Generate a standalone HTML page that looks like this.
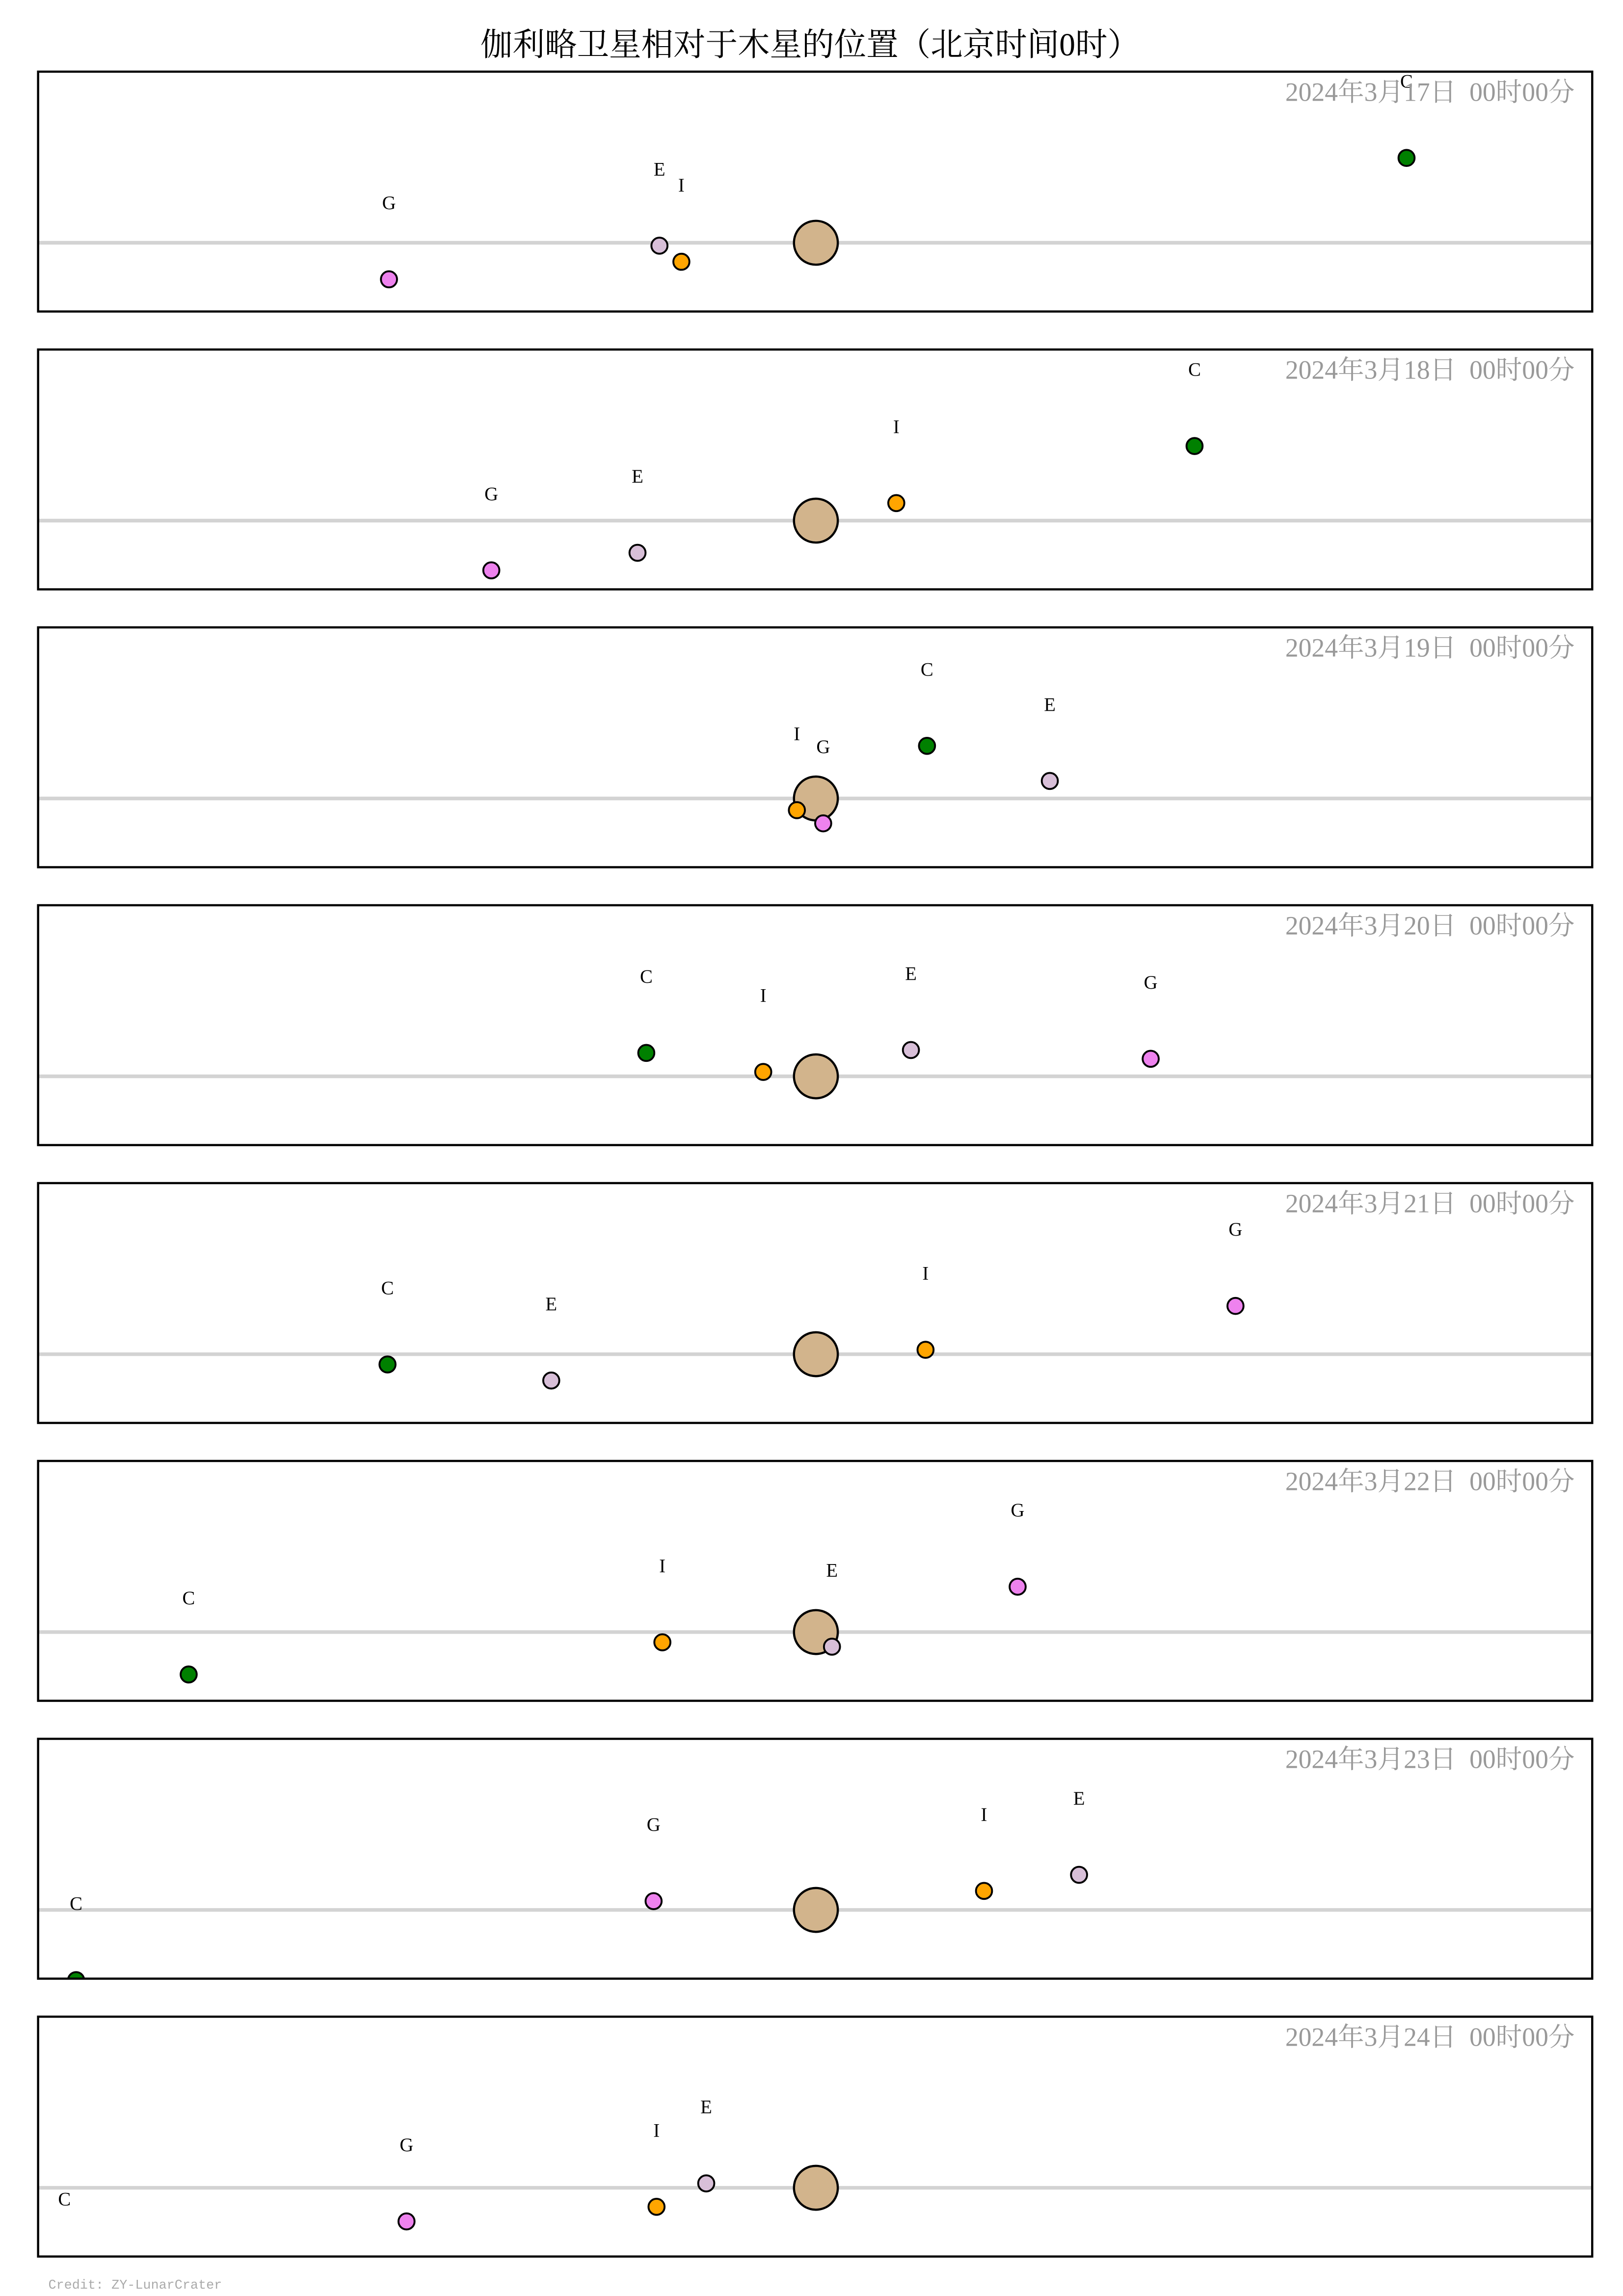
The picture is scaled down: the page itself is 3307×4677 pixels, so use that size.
<!DOCTYPE html>
<html><head><meta charset="utf-8"><style>html,body{margin:0;padding:0;background:#fff}svg{display:block}</style></head>
<body>
<svg id="chart" xmlns="http://www.w3.org/2000/svg" width="3307" height="4677" viewBox="0 0 1110 1570">
<rect width="1110" height="1570" fill="#fff"/>
<text x="554" y="38" text-anchor="middle" font-family="'Liberation Serif','Noto Serif CJK SC',serif" font-size="22">伽利略卫星相对于木星的位置（北京时间0时）</text>
<text x="33" y="1565" font-family="'Liberation Mono',monospace" font-size="9" fill="#aaa">Credit: ZY-LunarCrater</text>
<g id="panels"></g>
</svg>
<script>
const dates = ["2024年3月17日  00时00分","2024年3月18日  00时00分","2024年3月19日  00时00分","2024年3月20日  00时00分","2024年3月21日  00时00分","2024年3月22日  00时00分","2024年3月23日  00时00分","2024年3月24日  00时00分"];
const moonNames = ["I","E","G","C"];
const moonColors = ["orange","thistle","violet","green"];
const ioX = [-92,55,-13,-36,75,-105,115,-109];
const ioY = [13,-12,8,-3,-3,7,-13,13];
const euX = [-107,-122,160,65,-181,11,180,-75];
const euY = [2,22,-12,-18,18,10,-24,-3];
const gaX = [-292,-222,5,229,287,138,-111,-280];
const gaY = [25,34,17,-12,-33,-31,-6,23];
const caX = [404,259,76,-116,-293,-429,-506,-514];
const caY = [-58,-51,-36,-16,7,29,48,60];
const series = [[ioX,ioY],[euX,euY],[gaX,gaY],[caX,caY]];

const NS = "http://www.w3.org/2000/svg";
const g = document.getElementById("panels");
const panelLeft = 26, panelW = 1063, panelH = 164, panelTop0 = 49, panelStep = 190, centerOff = 117, jupX = 558;
function xPos(v){ return jupX + v; }
function yPos(v, p){ return panelTop0 + p*panelStep + centerOff + v; }
function mk(tag, attrs){ const e = document.createElementNS(NS, tag); for (const k in attrs) e.setAttribute(k, attrs[k]); return e; }

dates.forEach((d, p) => {
  const top = panelTop0 + p*panelStep;
  const pg = mk("g", {});
  
  
  const cp = mk("clipPath", {id: "cp"+p});
  cp.appendChild(mk("rect", {x: panelLeft, y: top, width: panelW, height: panelH}));
  pg.appendChild(cp);
  const inner = mk("g", {"clip-path": "url(#cp"+p+")"});
  const line = mk("line", {x1: panelLeft, x2: panelLeft+panelW, y1: yPos(0,p), y2: yPos(0,p), stroke: "#d3d3d3", "stroke-width": 2.5});
  
  
  inner.appendChild(line);
  const jup = mk("circle", {cx: xPos(0), cy: yPos(0,p), r: 15, fill: "tan", stroke: "#000", "stroke-width": 1.5});
  
  
  inner.appendChild(jup);
  series.forEach((s, i) => {
    const c = mk("circle", {cx: xPos(s[0][p]), cy: yPos(s[1][p],p), r: 5.5, fill: moonColors[i], stroke: "#000", "stroke-width": 1.3});
    
    
    inner.appendChild(c);
  });
  pg.appendChild(inner);
  series.forEach((s, i) => {
    const ly = yPos(s[1][p],p) - 48;
    const lx = xPos(s[0][p]);
    if (lx < panelLeft || lx > panelLeft+panelW) return;
    const t = mk("text", {x: lx, y: ly, "text-anchor": "middle", "font-family": "'Liberation Serif',serif", "font-size": 13});
    t.textContent = moonNames[i];
    
    
    pg.appendChild(t);
  });
  const dt = mk("text", {x: 1077, y: top+20, "text-anchor": "end", "font-family": "'Liberation Serif','Noto Serif CJK SC',serif", "font-size": 18, fill: "#999"});
  dt.setAttributeNS("http://www.w3.org/XML/1998/namespace", "xml:space", "preserve");
  dt.style.whiteSpace = "pre";
  dt.textContent = d;
  
  
  pg.appendChild(dt);
  const frame = mk("rect", {x: panelLeft, y: top, width: panelW, height: panelH, fill: "none", stroke: "#000", "stroke-width": 1.5});
  
  
  pg.appendChild(frame);
  g.appendChild(pg);
});
</script>
</body></html>
